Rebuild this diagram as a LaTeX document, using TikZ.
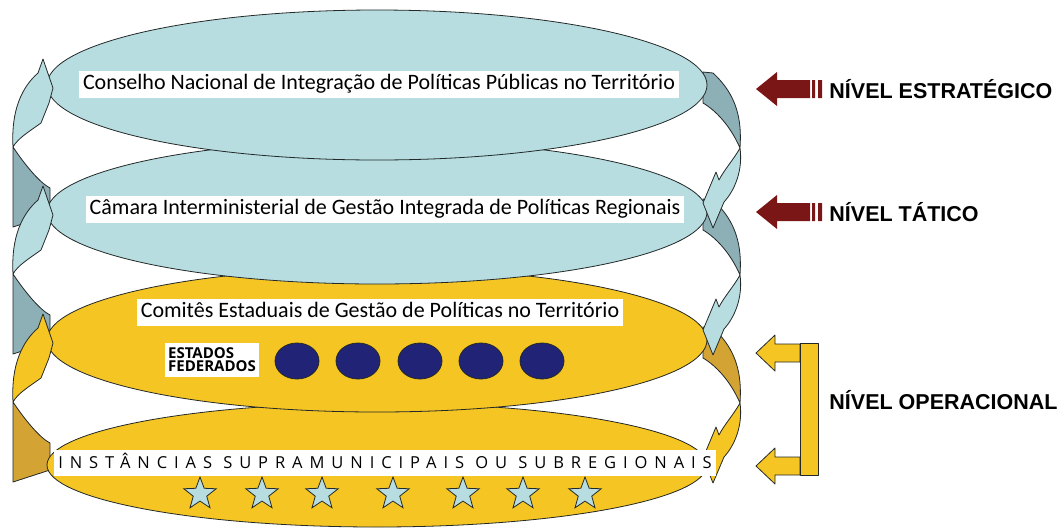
\documentclass[tikz,border=0pt]{standalone}
\usepackage{fontspec}
\setmainfont{Carlito}
\newfontfamily\levelfont{Liberation Sans}
\newfontfamily\statefont{Open Sans}
\newfontfamily\spacedfont{Open Sans}[LetterSpace=42]
\usetikzlibrary{shapes.geometric}
\definecolor{paleblue}{RGB}{183,221,224}
\definecolor{greyblue}{RGB}{141,175,182}
\definecolor{gold}{RGB}{245,197,35}
\definecolor{darkgold}{RGB}{211,163,52}
\definecolor{stateblue}{RGB}{33,35,118}
\definecolor{arrowred}{RGB}{122,22,22}
\definecolor{edge}{RGB}{35,40,40}
\tikzset{
  layer/.style={ellipse,draw=edge,minimum width=660,inner sep=0},
  tag/.style={fill=white,inner xsep=4,inner ysep=3,text height=16,text depth=5,
    font=\fontsize{22}{22}\selectfont},
  level/.style={anchor=west,inner sep=0,text=black,font=\levelfont\bfseries\fontsize{21.5}{22}\selectfont},
  ribbon/.style={draw=edge,line join=round}
}
\begin{document}
\begin{tikzpicture}[x=1pt,y=-1pt,line width=0.8pt]
\useasboundingbox (0,0) rectangle (1062,531);
% back of the ribbons
\foreach \yt/\col in {85/greyblue,212/greyblue,340/darkgold} {
  \filldraw[ribbon,fill=\col] (13,\yt+62) .. controls (25,\yt+80) and (40,\yt+98) .. (50,\yt+103)
    -- (50,\yt+130) -- (13,\yt+142) -- cycle;
  \filldraw[ribbon,fill=\col] (703,\yt-13) -- (713,\yt-12) .. controls (737,\yt+10) and (742,\yt+35) .. (740,\yt+63)
    .. controls (730,\yt+40) and (715,\yt+25) .. (703,\yt+18) -- cycle;
}
\node[layer,fill=gold,minimum height=124] (instancias) at (377,465) {};
\node[layer,fill=gold,minimum height=144] (comites) at (377,340) {};
\node[layer,fill=paleblue,minimum height=144] (camara) at (377,212) {};
\node[layer,fill=paleblue,minimum height=150] (conselho) at (377,85) {};
% front of the ribbons
\foreach \yt/\col in {85/paleblue,212/paleblue,340/gold} {
  \filldraw[ribbon,fill=\col] (13,\yt+62) .. controls (11,\yt+25) and (22,\yt+2) .. (38,\yt-12)
    -- (43,\yt-26) -- (53,\yt+3) -- (49,\yt+18) -- (41,\yt+38)
    .. controls (30,\yt+46) and (18,\yt+53) .. (13,\yt+62) -- cycle;
  \filldraw[ribbon,fill=\col] (740,\yt+63) .. controls (743,\yt+85) and (735,\yt+105) .. (724,\yt+117)
    -- (713,\yt+143) -- (703,\yt+118) -- (716,\yt+87) -- (719,\yt+95)
    .. controls (724,\yt+85) and (734,\yt+74) .. (740,\yt+63) -- cycle;
}
\node[tag] (conselho text) at (379,84) {Conselho Nacional de Integração de Políticas Públicas no Território};
\node[tag] (camara text) at (385,209) {Câmara Interministerial de Gestão Integrada de Políticas Regionais};
\node[tag] (comites text) at (380,312) {Comitês Estaduais de Gestão de Políticas no Território};
\node[fill=white,align=left,inner xsep=3,inner ysep=5,font=\statefont\bfseries\fontsize{15}{13}\selectfont]
  (estados) at (212,360) {ESTADOS\\FEDERADOS};
\foreach \x [count=\i] in {297,358,420,481,542}
  \node[ellipse,draw=edge,fill=stateblue,minimum width=44,minimum height=36] (uf\i) at (\x,361) {};
\node[fill=white,inner xsep=4,inner ysep=6,text height=12,text depth=2,
  font=\spacedfont\fontsize{16.5}{16.5}\selectfont] (instancias text) at (385,463)
  {INSTÂNCIAS SUPRAMUNICIPAIS OU SUBREGIONAIS};
\foreach \x [count=\i] in {200,262,322,393,463,523,585}
  \node[star,star points=5,star point ratio=2.4,draw=edge,fill=paleblue,minimum size=34,inner sep=0]
    (star\i) at (\x,494) {};
% levels
\foreach \y/\lbl in {89/ESTRATÉGICO,212/TÁTICO} {
  \fill[arrowred] (756,\y) -- (777,\y-17) -- (777,\y-9) -- (810,\y-9) -- (810,\y+9)
    -- (777,\y+9) -- (777,\y+17) -- cycle;
  \fill[arrowred] (812,\y-9) rectangle (815,\y+9) (818,\y-9) rectangle (822,\y+9);
  \node[level] (nivel \lbl) at (829,\y) {NÍVEL \lbl};
}
\foreach \y in {353,466}
  \filldraw[ribbon,fill=gold] (756,\y) -- (775,\y-18) -- (775,\y-9) -- (800,\y-9) -- (800,\y+9)
    -- (775,\y+9) -- (775,\y+18) -- cycle;
\filldraw[ribbon,fill=gold] (800,343) rectangle (818,475);
\node[level] (nivel operacional) at (829,400) {NÍVEL OPERACIONAL};
\end{tikzpicture}
\end{document}
